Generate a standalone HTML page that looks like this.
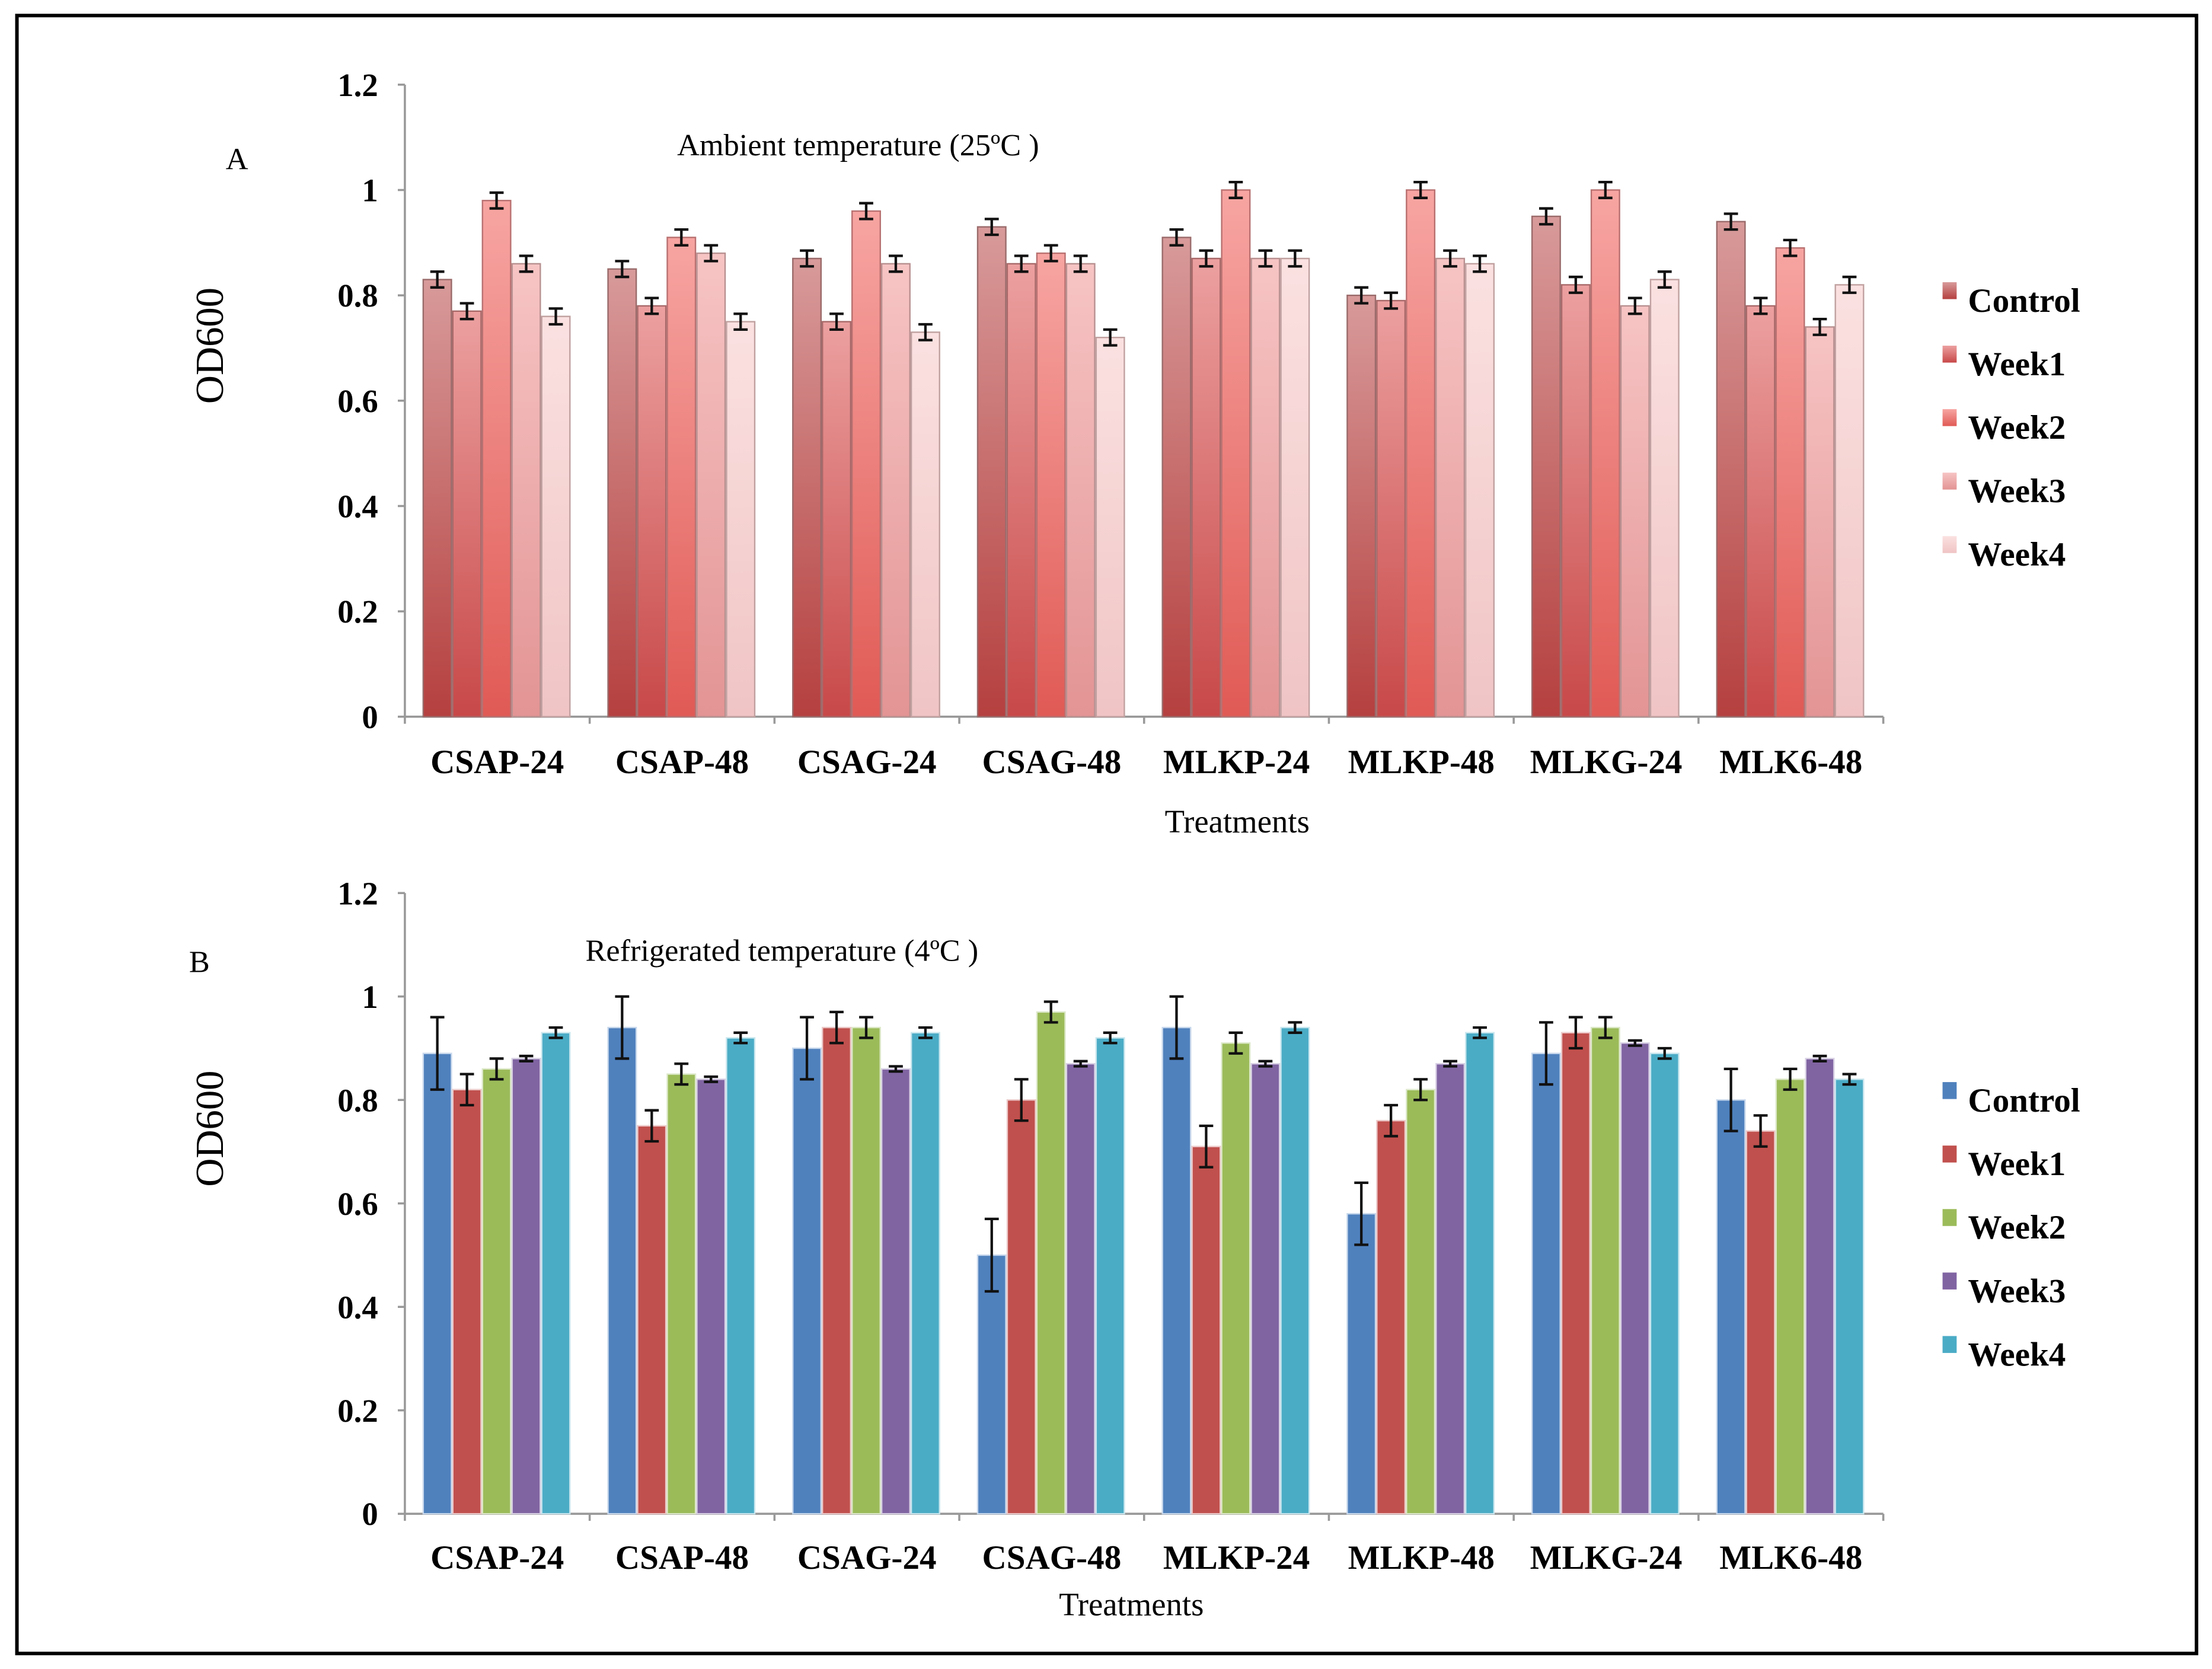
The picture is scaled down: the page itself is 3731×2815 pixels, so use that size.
<!DOCTYPE html>
<html><head><meta charset="utf-8"><style>
html,body{margin:0;padding:0;background:#fff;}
svg{display:block;}
text{font-family:"Liberation Serif",serif;fill:#000;}
</style></head><body>
<svg id="chart" width="3731" height="2815" viewBox="0 0 1568 1183" xmlns="http://www.w3.org/2000/svg">
<defs>
<linearGradient id="gA0" x1="0" y1="1" x2="0" y2="0"><stop offset="0" stop-color="#b5403f"/><stop offset="1" stop-color="#d89a9a"/></linearGradient>
<linearGradient id="gA1" x1="0" y1="1" x2="0" y2="0"><stop offset="0" stop-color="#c84848"/><stop offset="1" stop-color="#eca0a0"/></linearGradient>
<linearGradient id="gA2" x1="0" y1="1" x2="0" y2="0"><stop offset="0" stop-color="#e05a55"/><stop offset="1" stop-color="#f7a5a2"/></linearGradient>
<linearGradient id="gA3" x1="0" y1="1" x2="0" y2="0"><stop offset="0" stop-color="#e39494"/><stop offset="1" stop-color="#f7c4c4"/></linearGradient>
<linearGradient id="gA4" x1="0" y1="1" x2="0" y2="0"><stop offset="0" stop-color="#f0c4c4"/><stop offset="1" stop-color="#fbe1e1"/></linearGradient>
</defs>
<rect x="12" y="11" width="1545" height="1161" fill="none" stroke="#000" stroke-width="2.5"/>
<g id="pa"></g>
<g id="pb"></g>
</svg>
<script>
const categories = ["CSAP-24","CSAP-48","CSAG-24","CSAG-48","MLKP-24","MLKP-48","MLKG-24","MLK6-48"];
const seriesNames = ["Control","Week1","Week2","Week3","Week4"];
const yTicks = [0,0.2,0.4,0.6,0.8,1,1.2];
const yTickLabels = ["0","0.2","0.4","0.6","0.8","1","1.2"];
// Panel A (ambient) values per series, across categories
const aControl = [0.83,0.85,0.87,0.93,0.91,0.80,0.95,0.94];
const aWeek1   = [0.77,0.78,0.75,0.86,0.87,0.79,0.82,0.78];
const aWeek2   = [0.98,0.91,0.96,0.88,1.00,1.00,1.00,0.89];
const aWeek3   = [0.86,0.88,0.86,0.86,0.87,0.87,0.78,0.74];
const aWeek4   = [0.76,0.75,0.73,0.72,0.87,0.86,0.83,0.82];
const aErr     = [0.015,0.015,0.015,0.015,0.015];
// Panel B (refrigerated)
const bControl = [0.89,0.94,0.90,0.50,0.94,0.58,0.89,0.80];
const bWeek1   = [0.82,0.75,0.94,0.80,0.71,0.76,0.93,0.74];
const bWeek2   = [0.86,0.85,0.94,0.97,0.91,0.82,0.94,0.84];
const bWeek3   = [0.88,0.84,0.86,0.87,0.87,0.87,0.91,0.88];
const bWeek4   = [0.93,0.92,0.93,0.92,0.94,0.93,0.89,0.84];
const bErrControl = [0.07,0.06,0.06,0.07,0.06,0.06,0.06,0.06];
const bErrWeek1   = [0.03,0.03,0.03,0.04,0.04,0.03,0.03,0.03];
const bErrWeek2   = [0.02,0.02,0.02,0.02,0.02,0.02,0.02,0.02];
const bErrWeek3   = [0.005,0.005,0.005,0.005,0.005,0.005,0.005,0.005];
const bErrWeek4   = [0.01,0.01,0.01,0.01,0.01,0.01,0.01,0.01];

const NS="http://www.w3.org/2000/svg";
function mk(parent,tag,attrs,txt){const e=document.createElementNS(NS,tag);for(const k in attrs)e.setAttribute(k,attrs[k]);if(txt!==undefined)e.textContent=txt;parent.appendChild(e);return e;}

function drawPanel(g,cfg){
  const x0=287,x1=1335,y0=cfg.y0,yTop=cfg.yTop;
  const yS=v=>y0-(v/1.2)*(y0-yTop);
  const gw=(x1-x0)/categories.length, bw=21;
  const xS=(ci,si)=>x0+gw*ci+gw/2+(si-2)*bw-bw/2;
  let ax=mk(g,'line',{x1:x0,y1:yTop,x2:x0,y2:y0,stroke:'#999','stroke-width':1.5});
  
  
  let bx=mk(g,'line',{x1:x0,y1:y0,x2:x1,y2:y0,stroke:'#999','stroke-width':1.5});
  
  
  yTicks.forEach((t,i)=>{
    const y=yS(t);
    mk(g,'line',{x1:x0-5,y1:y,x2:x0,y2:y,stroke:'#999','stroke-width':1.5});
    const l=mk(g,'text',{x:268,y:y+8,'text-anchor':'end','font-size':23,'font-weight':'bold'},yTickLabels[i]);
    
    
  });
  for(let c=0;c<=categories.length;c++){
    mk(g,'line',{x1:x0+gw*c,y1:y0,x2:x0+gw*c,y2:y0+5,stroke:'#999','stroke-width':1.5});
  }
  categories.forEach((c,ci)=>{
    const l=mk(g,'text',{x:x0+gw*ci+gw/2,y:cfg.labY,'text-anchor':'middle','font-size':24,'font-weight':'bold'},c);
    
    
  });
  cfg.series.forEach((vals,si)=>{
    vals.forEach((v,ci)=>{
      const x=xS(ci,si),y=yS(v);
      const r=mk(g,'rect',{x:x,y:y,width:bw-1,height:y0-y,fill:cfg.fills[si],stroke:cfg.strokes[si],'stroke-width':1});
      
      
      const e=cfg.errs[si][ci];
      const cx=x+bw/2-0.5;
      const eg=mk(g,'g',{stroke:'#111','stroke-width':1.8});
      
      
      mk(eg,'line',{x1:cx,y1:yS(v+e),x2:cx,y2:yS(v-e)});
      mk(eg,'line',{x1:cx-5,y1:yS(v+e),x2:cx+5,y2:yS(v+e)});
      mk(eg,'line',{x1:cx-5,y1:yS(v-e),x2:cx+5,y2:yS(v-e)});
    });
  });
  seriesNames.forEach((n,si)=>{
    const y=cfg.legY+si*45;
    const s=mk(g,'rect',{x:1377,y:y-13,width:10,height:12,fill:cfg.fills[si]});
    
    
    const t=mk(g,'text',{x:1395,y:y+8,'font-size':24,'font-weight':'bold'},n);
    
    
  });
  const L=mk(g,'text',{x:cfg.letX,y:cfg.letY,'font-size':22},cfg.letter);
  
  
  const T=mk(g,'text',{x:cfg.titX,y:cfg.titY,'font-size':22},cfg.title);
  
  
  const yl=mk(g,'text',{x:0,y:0,'font-size':28,'text-anchor':'middle',transform:`translate(158,${cfg.ylY}) rotate(-90)`},'OD600');
  
  
  const xl=mk(g,'text',{x:cfg.xtX,y:cfg.xtY,'font-size':23,'text-anchor':'middle'},'Treatments');
  
  
}
drawPanel(document.getElementById('pa'),{y0:508,yTop:60,labY:548,legY:213,letter:'A',letX:160,letY:120,
  title:'Ambient temperature (25ºC )',titX:480,titY:110,ylY:245,xtX:877,xtY:590,
  series:[aControl,aWeek1,aWeek2,aWeek3,aWeek4],
  errs:aErr.map(e=>categories.map(()=>e)),
  fills:['url(#gA0)','url(#gA1)','url(#gA2)','url(#gA3)','url(#gA4)'],
  strokes:['#9a6a6a','#a86868','#b87070','#b89090','#c0a0a0']});
drawPanel(document.getElementById('pb'),{y0:1073,yTop:633,labY:1112,legY:780,letter:'B',letX:134,letY:689,
  title:'Refrigerated temperature (4ºC )',titX:415,titY:681,ylY:800,xtX:802,xtY:1145,
  series:[bControl,bWeek1,bWeek2,bWeek3,bWeek4],
  errs:[bErrControl,bErrWeek1,bErrWeek2,bErrWeek3,bErrWeek4],
  fills:['#4f81bd','#c0504d','#9bbb59','#8064a2','#4bacc6'],
  strokes:['#c8d8ec','#ecc8c8','#dce8c8','#d8d0e4','#c8e6ee']});
</script>
</body></html>
